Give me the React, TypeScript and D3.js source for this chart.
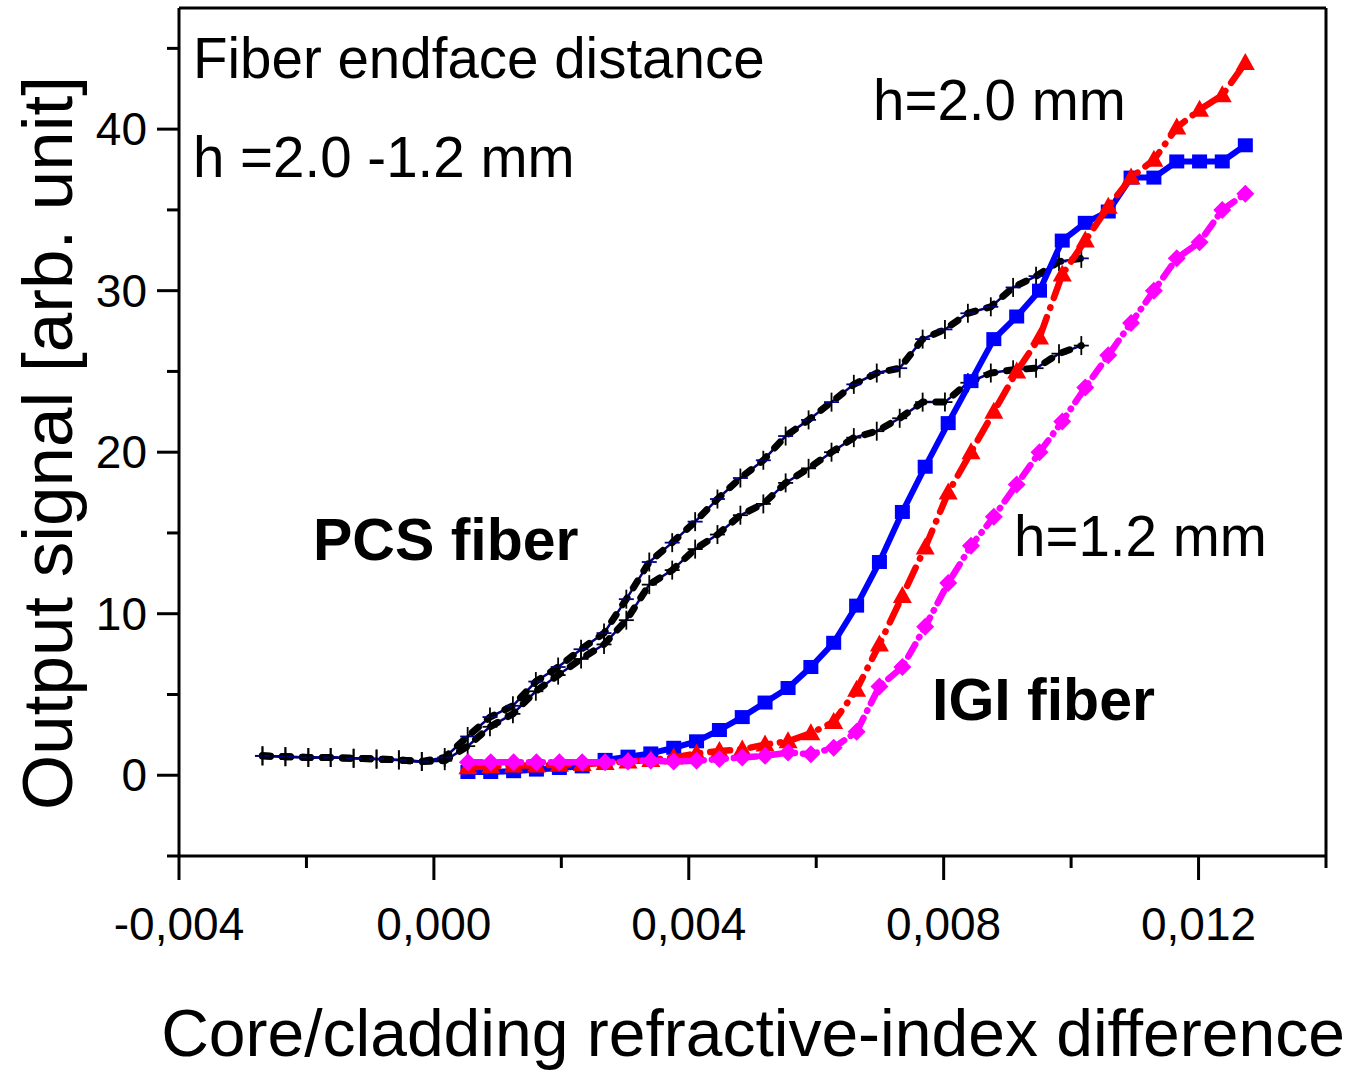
import React from "react";
import * as d3 from "d3";

// Core/cladding refractive-index difference for the PCS fiber scans
const X_PCS = [
  -0.00269, -0.00233, -0.00197, -0.00162, -0.00126, -0.0009, -0.00055, -0.00019,
  0.00017, 0.00053, 0.00088, 0.00124, 0.0016, 0.00195, 0.00231, 0.00267, 0.00302,
  0.00338, 0.00374, 0.0041, 0.00445, 0.00481, 0.00517, 0.00552, 0.00588, 0.00624,
  0.00659, 0.00695, 0.00731, 0.00767, 0.00802, 0.00838, 0.00874, 0.00909, 0.00945,
  0.00981, 0.01016,
];
const PCS_H20 = [
  1.2, 1.15, 1.1, 1.1, 1.05, 1.0, 0.95, 0.85, 1.1, 2.4, 3.6, 4.3, 5.8, 6.7, 7.8, 8.8,
  10.9, 13.2, 14.4, 15.7, 17.1, 18.4, 19.5, 21.0, 22.0, 23.1, 24.2, 24.9, 25.2, 27.0,
  27.6, 28.6, 29.0, 30.2, 30.9, 31.8, 32.0,
];
const PCS_H12 = [
  1.2, 1.15, 1.1, 1.1, 1.05, 1.0, 0.95, 0.85, 0.9, 1.8, 3.0, 3.8, 5.2, 6.2, 7.2, 8.1,
  9.6, 11.8, 12.7, 14.0, 14.9, 16.1, 16.8, 18.1, 19.0, 20.0, 20.9, 21.3, 22.1, 23.1,
  23.1, 24.3, 24.9, 25.1, 25.2, 26.1, 26.6,
];

// Index difference for the IGI fiber scans
const X_IGI = [
  0.000534, 0.000892, 0.001251, 0.001609, 0.001969, 0.002327, 0.002687, 0.003046,
  0.003404, 0.003764, 0.004122, 0.004481, 0.004839, 0.005197, 0.005558, 0.005916,
  0.006274, 0.006634, 0.006992, 0.007352, 0.00771, 0.008071, 0.008429, 0.008787,
  0.009146, 0.009504, 0.009861, 0.010222, 0.010583, 0.010941, 0.011299, 0.011658,
  0.012016, 0.012372, 0.012734,
];
const IGI_SQUARES = [
  0.2, 0.2, 0.25, 0.35, 0.45, 0.55, 0.95, 1.15, 1.35, 1.7, 2.1, 2.8, 3.6, 4.5, 5.4,
  6.7, 8.2, 10.5, 13.2, 16.3, 19.1, 21.8, 24.4, 27.0, 28.4, 30.0, 33.1, 34.2, 34.9,
  37.0, 37.0, 38.0, 38.0, 38.0, 39.0,
];
const IGI_TRIANGLES = [
  0.5, 0.55, 0.6, 0.6, 0.65, 0.7, 0.75, 0.85, 0.95, 1.1, 1.35, 1.5, 1.6, 1.9, 2.1,
  2.6, 3.3, 5.3, 8.1, 11.1, 14.1, 17.5, 20.0, 22.5, 25.0, 27.1, 31.0, 33.1, 35.2,
  37.0, 38.1, 40.1, 41.2, 42.1, 44.1,
];
const IGI_DIAMONDS = [
  0.8, 0.8, 0.8, 0.8, 0.8, 0.8, 0.8, 0.85, 0.9, 0.85, 0.9, 1.0, 1.1, 1.2, 1.4, 1.3,
  1.7, 2.7, 5.5, 6.7, 9.2, 11.9, 14.2, 16.0, 18.0, 20.0, 21.9, 24.0, 26.0, 28.0,
  30.0, 32.0, 33.0, 35.0, 36.0,
];

const X_MAJOR = [-0.004, 0.0, 0.004, 0.008, 0.012];
const X_MINOR = [-0.002, 0.002, 0.006, 0.01, 0.014];
const Y_MAJOR = [0, 10, 20, 30, 40];
const Y_MINOR = [-5, 5, 15, 25, 35, 45];

const W = 1346;
const H = 1072;
const FONT = "'Liberation Sans', Arial, Helvetica, sans-serif";

const x = d3.scaleLinear().domain([-0.004, 0.014]).range([179, 1326]);
const y = d3.scaleLinear().domain([-5, 47.5]).range([856, 8]);

const fmtX = (v: number) =>
  (v < -1e-12 ? "-" : "") + Math.abs(v).toFixed(3).replace(".", ",");

const toPts = (xs: number[], ys: number[]) =>
  xs.map((v, i) => [x(v), y(ys[i])] as [number, number]);

const line = d3.line<[number, number]>();

function Plus({ cx, cy, hColor }: { cx: number; cy: number; hColor: string }) {
  const s = 7.5;
  return (
    <g strokeWidth={1.8}>
      <line x1={cx - s} x2={cx + s} y1={cy} y2={cy} stroke={hColor} />
      <line x1={cx} x2={cx} y1={cy - s - 2} y2={cy + s + 2} stroke="#000" />
    </g>
  );
}

function PcsCurve({ ys, hColor }: { ys: number[]; hColor: string }) {
  const pts = toPts(X_PCS, ys);
  const d = line(pts) || "";
  return (
    <g>
      <path d={d} fill="none" stroke="#000080" strokeWidth={2.5} />
      <path
        d={d}
        fill="none"
        stroke="#000"
        strokeWidth={7}
        strokeLinecap="round"
        strokeDasharray="8 12"
      />
      {pts.map(([px, py], i) => (
        <Plus key={i} cx={px} cy={py} hColor={hColor} />
      ))}
    </g>
  );
}

export default function App() {
  const sq = toPts(X_IGI, IGI_SQUARES);
  const tri = toPts(X_IGI, IGI_TRIANGLES);
  const dia = toPts(X_IGI, IGI_DIAMONDS);

  const bigText = { fontFamily: FONT, fontSize: 56.5, fill: "#000" };
  const boldText = { fontFamily: FONT, fontSize: 59, fontWeight: 700, fill: "#000" };

  return (
    <svg
      width={W}
      height={H}
      viewBox={`0 0 ${W} ${H}`}
      style={{ position: "absolute", left: 0, top: 0, background: "#fff" }}
    >
      <rect x={0} y={0} width={W} height={H} fill="#fff" />

      {/* frame */}
      <g stroke="#000" strokeWidth={3} fill="none">
        <line x1={179} x2={1326} y1={8} y2={8} />
        <line x1={1326} x2={1326} y1={8} y2={856} />
        <line x1={179} x2={179} y1={8} y2={856} />
        <line x1={179} x2={1326} y1={856} y2={856} />
      </g>

      {/* ticks */}
      <g stroke="#000" strokeWidth={3}>
        {X_MAJOR.map((v) => (
          <line key={"xM" + v} x1={x(v)} x2={x(v)} y1={856} y2={880} />
        ))}
        {X_MINOR.map((v) => (
          <line key={"xm" + v} x1={x(v)} x2={x(v)} y1={856} y2={868} />
        ))}
        {Y_MAJOR.map((v) => (
          <line key={"yM" + v} x1={157} x2={179} y1={y(v)} y2={y(v)} />
        ))}
        {Y_MINOR.map((v) => (
          <line key={"ym" + v} x1={167} x2={179} y1={y(v)} y2={y(v)} />
        ))}
      </g>

      {/* tick labels */}
      <g fontFamily={FONT} fontSize={46} fill="#000">
        {X_MAJOR.map((v) => (
          <text key={"xl" + v} x={x(v)} y={940} textAnchor="middle">
            {fmtX(v)}
          </text>
        ))}
        {Y_MAJOR.map((v) => (
          <text key={"yl" + v} x={147} y={y(v)} textAnchor="end" dominantBaseline="central">
            {v}
          </text>
        ))}
      </g>

      {/* axis titles */}
      <text x={753} y={1056} textAnchor="middle" fontFamily={FONT} fontSize={66} fill="#000">
        Core/cladding refractive-index difference
      </text>
      <text
        transform="translate(72,443) rotate(-90)"
        textAnchor="middle"
        fontFamily={FONT}
        fontSize={71}
        fill="#000"
      >
        Output signal [arb. unit]
      </text>

      {/* PCS fiber curves */}
      <PcsCurve ys={PCS_H12} hColor="#000" />
      <PcsCurve ys={PCS_H20} hColor="#000080" />

      {/* IGI fiber: squares */}
      <path d={line(sq) || ""} fill="none" stroke="#0000ff" strokeWidth={6} strokeLinejoin="round" />
      {sq.map(([px, py], i) => (
        <rect key={"s" + i} x={px - 7.5} y={py - 7} width={15} height={14} fill="#0000ff" />
      ))}

      {/* IGI fiber: triangles */}
      <path
        d={line(tri) || ""}
        fill="none"
        stroke="#ff0000"
        strokeWidth={6.5}
        strokeLinecap="round"
        strokeDasharray="20 10 0.5 10"
      />
      {tri.map(([px, py], i) => (
        <path
          key={"t" + i}
          d={`M${px},${py - 10}L${px + 9.5},${py + 7}L${px - 9.5},${py + 7}Z`}
          fill="#ff0000"
        />
      ))}

      {/* IGI fiber: diamonds */}
      <path
        d={line(dia) || ""}
        fill="none"
        stroke="#ff00ff"
        strokeWidth={6.5}
        strokeLinecap="round"
        strokeDasharray="14 8 0.5 8"
      />
      {dia.map(([px, py], i) => (
        <path
          key={"d" + i}
          d={`M${px},${py - 9}L${px + 9},${py}L${px},${py + 9}L${px - 9},${py}Z`}
          fill="#ff00ff"
        />
      ))}

      {/* annotations */}
      <text x={193} y={78} {...bigText}>Fiber endface distance</text>
      <text x={193} y={177} {...bigText}>h =2.0 -1.2 mm</text>
      <text x={873} y={120} {...bigText}>h=2.0 mm</text>
      <text x={1014} y={556} {...bigText}>h=1.2 mm</text>
      <text x={313} y={560} {...boldText}>PCS fiber</text>
      <text x={932} y={720} {...boldText}>IGI fiber</text>
    </svg>
  );
}
